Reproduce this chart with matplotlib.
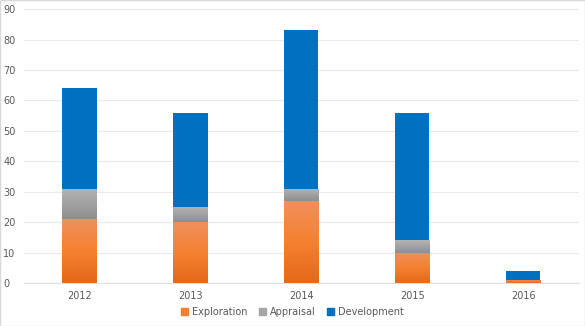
import matplotlib.pyplot as plt
import numpy as np
from matplotlib.colors import LinearSegmentedColormap
from matplotlib.patches import Patch

years = ['2012', '2013', '2014', '2015', '2016']
exploration = [21, 20, 27, 10, 1]
appraisal = [10, 5, 4, 4, 0]
development = [33, 31, 52, 42, 3]

fig = plt.figure(figsize=(5.85, 3.26), dpi=100)
ax = fig.add_axes([0.041, 0.132, 0.948, 0.84])

x = np.arange(len(years))
w = 0.31

orange_cm = LinearSegmentedColormap.from_list('o', ['#E4681A', '#F58130', '#F0905E'])
gray_cm = LinearSegmentedColormap.from_list('g', ['#8E8E8E', '#A2A2A2', '#B4B4B4'])
grad = np.linspace(0, 1, 256).reshape(-1, 1)


def grad_bar(xc, bottom, height, cmap):
    # gradient bar: image clipped to the bar rectangle
    bars = ax.bar(xc, height, w, bottom=bottom, color='none', edgecolor='none', zorder=2)
    for b in bars:
        if b.get_height() <= 0:
            continue
        x0, y0 = b.get_x(), b.get_y()
        im = ax.imshow(grad, cmap=cmap, aspect='auto', origin='lower',
                       extent=[x0, x0 + b.get_width(), y0, y0 + b.get_height()], zorder=2)
        im.set_clip_path(b)


grad_bar(x, 0, exploration, orange_cm)
bottom2 = np.array(exploration)
grad_bar(x, bottom2, appraisal, gray_cm)
bottom3 = bottom2 + np.array(appraisal)
ax.bar(x, development, w, bottom=bottom3, color='#0070C0', zorder=2)

ax.set_xlim(-0.5, len(years) - 0.5)
ax.set_ylim(0, 90)
ax.set_yticks(range(0, 91, 10))
ax.set_xticks(x)
ax.set_xticklabels(years)
ax.grid(axis='y', color='#EBEBEB', linewidth=0.8, zorder=0)
ax.set_axisbelow(True)
for s in ['top', 'right', 'left']:
    ax.spines[s].set_visible(False)
ax.spines['bottom'].set_color('#E0E0E0')
ax.tick_params(length=0, labelsize=7, colors='#595959', pad=6)
ax.tick_params(axis='y', pad=15)
for t in ax.get_yticklabels():
    t.set_horizontalalignment('left')

handles = [Patch(color='#F58130', label='Exploration'),
           Patch(color='#A5A5A5', label='Appraisal'),
           Patch(color='#0070C0', label='Development')]
leg = fig.legend(handles=handles, loc='lower center', ncol=3, frameon=False,
                 fontsize=7, bbox_to_anchor=(0.5, 0.0), handlelength=0.7,
                 handleheight=0.7, handletextpad=0.4, columnspacing=1.2)
for t in leg.get_texts():
    t.set_color('#595959')

fig.patches.append(plt.Rectangle((0, 0), 1, 1, transform=fig.transFigure,
                                 fill=False, edgecolor='#D9D9D9', linewidth=1))

fig.savefig('out.png', dpi=100)
